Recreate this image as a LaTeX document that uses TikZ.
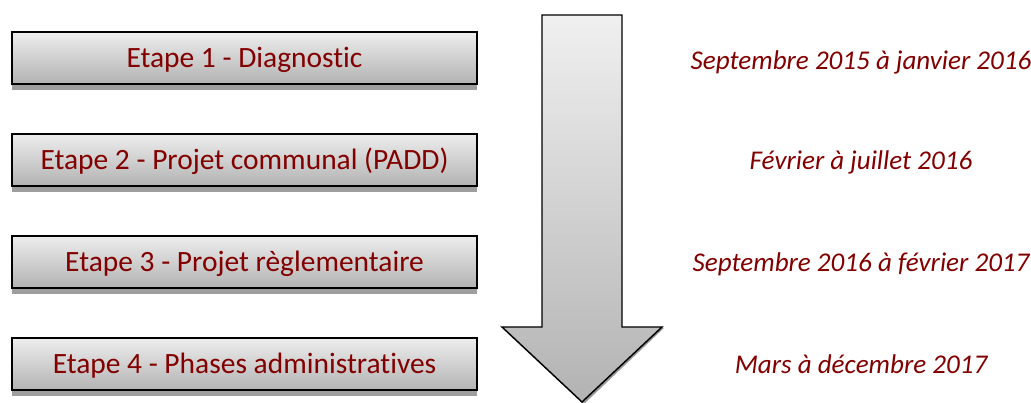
\documentclass[tikz,border=0pt]{standalone}
\usepackage{fontspec}
\setmainfont[Ligatures=CommonOff]{Carlito}
\usepackage{tikz}
\usetikzlibrary{shadows}
\definecolor{stepred}{HTML}{820000}

\tikzset{
    etape/.style={draw=black, line width=1.5pt, top color=black!7, bottom color=black!30,
        minimum width=465*0.75pt, minimum height=52*0.75pt, inner sep=0pt,
        text height=14pt, text depth=0pt,
        text=stepred, font=\fontsize{22.1}{24}\selectfont,
        drop shadow={shadow xshift=0pt, shadow yshift=-4.5pt, fill=black!38, opacity=1}},
    periode/.style={text=stepred, font=\fontsize{20.3}{24}\selectfont\itshape, inner sep=0pt,
        text height=13pt, text depth=0pt}
}

\begin{document}
\begin{tikzpicture}[x=0.75pt, y=0.75pt]
    \useasboundingbox (0,0) rectangle (1031,403);

    % Draw the steps on the left
    \node[etape] (etape1) at (244.5,345) {Etape 1 - Diagnostic};
    \node[etape] (etape2) at (244.5,243) {Etape 2 - Projet communal (PADD)};
    \node[etape] (etape3) at (244.5,141) {Etape 3 - Projet règlementaire};
    \node[etape] (etape4) at (244.5,38.5) {Etape 4 - Phases administratives};

    % Draw the big arrow with a shadow under its head
    \fill[black!40] (504,75) -- (664,75) -- (584,-1) -- cycle;
    \shade[top color=black!6, bottom color=black!30, draw=black, line width=1.1pt, line join=miter]
        (542,388) -- (622,388) -- (622,76) -- (662,76) -- (582,1) -- (502,76) -- (542,76) -- cycle;

    % Add the dates on the right
    \node[periode] (periode1) at (861,342) {Septembre 2015 à janvier 2016};
    \node[periode] (periode2) at (861,242) {Février à juillet 2016};
    \node[periode] (periode3) at (861,140) {Septembre 2016 à février 2017};
    \node[periode] (periode4) at (861,38) {Mars à décembre 2017};
\end{tikzpicture}
\end{document}
